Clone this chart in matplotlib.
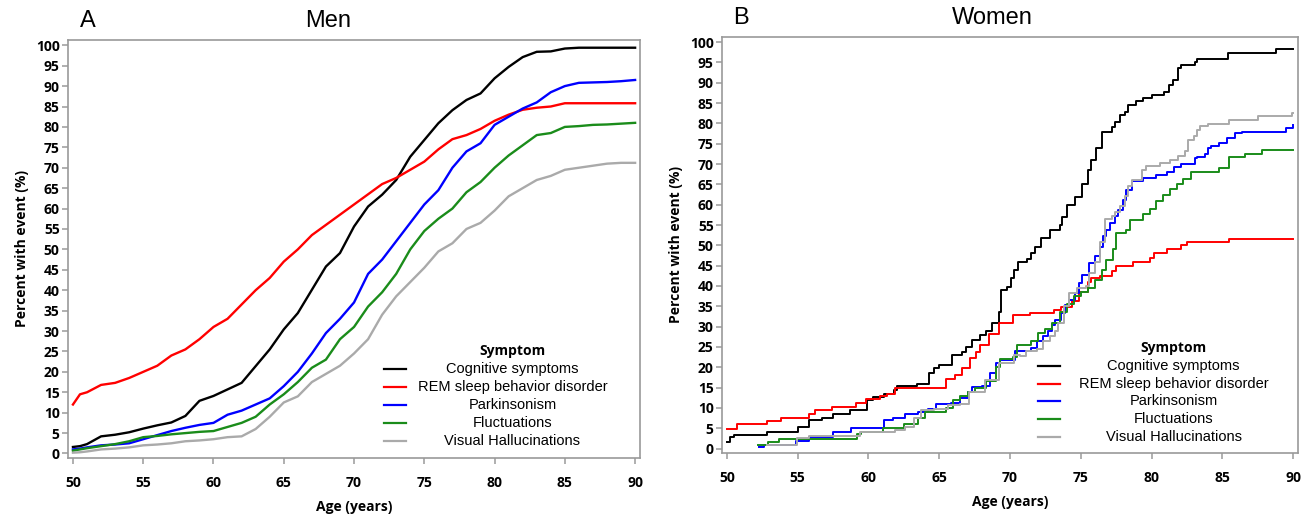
import numpy as np
import matplotlib
matplotlib.use('Agg')
import matplotlib.pyplot as plt
from matplotlib.lines import Line2D

# ---- data: age (years) and cumulative percent ----
labels = ["Cognitive symptoms", "REM sleep behavior disorder", "Parkinsonism",
          "Fluctuations", "Visual Hallucinations"]
colors = ["black", "#ff0000", "#0000ff", "#1a8c1a", "#aaaaaa"]

# Men
men_age = [50, 50.5, 51, 52, 53, 54, 55, 56, 57, 58, 59, 60, 61, 62, 63, 64, 65,
           66, 67, 68, 69, 70, 71, 72, 73, 74, 75, 76, 77, 78, 79, 80, 81, 82,
           83, 84, 85, 86, 87, 88, 89, 90]
men_cog = [1.6, 1.8, 2.3, 4.2, 4.6, 5.2, 6.1, 6.9, 7.6, 9.2, 12.9, 14.1, 15.7, 17.3,
           21.4, 25.5, 30.4, 34.4, 40.1, 45.8, 49.1, 55.6, 60.5, 63.4, 67.0, 72.7,
           76.8, 80.9, 84.1, 86.6, 88.2, 91.9, 94.7, 97.1, 98.4, 98.5, 99.2, 99.4,
           99.4, 99.4, 99.4, 99.4]
men_rem = [12.0, 14.5, 15.0, 16.8, 17.3, 18.5, 20.0, 21.5, 24.0, 25.5, 28.0, 31.0,
           33.0, 36.5, 40.0, 43.0, 47.0, 50.0, 53.5, 56.0, 58.5, 61.0, 63.5, 66.0,
           67.5, 69.5, 71.5, 74.5, 77.0, 78.0, 79.5, 81.5, 83.0, 84.2, 84.7, 85.0,
           85.8, 85.8, 85.8, 85.8, 85.8, 85.8]
men_park = [1.0, 1.2, 1.5, 2.0, 2.2, 2.5, 3.5, 4.5, 5.5, 6.3, 7.0, 7.5, 9.5, 10.5,
            12.0, 13.5, 16.5, 20.0, 24.5, 29.5, 33.0, 37.0, 44.0, 47.5, 52.0, 56.5,
            61.0, 64.5, 70.0, 74.0, 76.0, 80.5, 82.5, 84.5, 86.0, 88.5, 90.0, 90.8,
            90.9, 91.0, 91.2, 91.5]
men_fluc = [0.7, 1.0, 1.3, 1.8, 2.3, 3.0, 4.0, 4.3, 4.7, 5.0, 5.3, 5.5, 6.5, 7.5,
            9.0, 12.0, 14.5, 17.5, 21.0, 23.0, 28.0, 31.0, 36.0, 39.5, 44.0, 50.0,
            54.5, 57.5, 60.0, 64.0, 66.5, 70.0, 73.0, 75.5, 78.0, 78.5, 80.0, 80.2,
            80.5, 80.6, 80.8, 81.0]
men_vh = [0.2, 0.3, 0.5, 1.0, 1.2, 1.5, 2.0, 2.2, 2.5, 3.0, 3.2, 3.5, 4.0, 4.2,
          6.0, 9.0, 12.5, 14.0, 17.5, 19.5, 21.5, 24.5, 28.0, 34.0, 38.5, 42.0,
          45.5, 49.5, 51.5, 55.0, 56.5, 59.5, 63.0, 65.0, 67.0, 68.0, 69.5, 70.0,
          70.5, 71.0, 71.2, 71.2]

# Women (step functions)
w_cog_age = [50, 50.2, 50.5, 52.8, 55.0, 55.8, 56.7, 57.5, 58.7, 59.9, 60.3, 61.1,
             61.8, 62.0, 63.4, 64.3, 64.6, 65.0, 65.9, 66.6, 66.9, 67.3, 67.9,
             68.3, 68.75, 69.2, 69.35, 69.8, 70.05, 70.3, 70.6, 71.2, 71.5, 71.8,
             72.2, 72.8, 73.5, 73.7, 74.0, 74.6, 75.1, 75.5, 75.7, 76.1, 76.5,
             77.2, 77.4, 77.8, 78.1, 78.35, 78.9, 79.4, 80.0, 80.9, 81.2, 81.5,
             81.9, 82.1, 83.1, 83.2, 85.4, 88.8, 90]
w_cog = [1.5, 2.9, 3.3, 4.1, 5.3, 7.0, 7.6, 8.6, 9.4, 11.9, 12.7, 13.3, 14.4, 15.4,
         16.0, 18.5, 19.7, 20.5, 23.0, 23.8, 25.0, 26.7, 27.9, 29.0, 30.8, 33.7,
         39.0, 39.8, 42.0, 44.0, 46.0, 46.6, 48.0, 49.7, 51.7, 53.8, 55.0, 57.0,
         59.9, 62.0, 65.2, 68.5, 71.0, 73.9, 78.0, 79.2, 80.4, 82.1, 82.9, 84.5,
         85.4, 86.2, 87.0, 87.8, 89.5, 90.7, 93.6, 94.4, 95.2, 95.8, 97.4, 98.3,
         98.3]
w_rem_age = [50, 50.7, 52.8, 53.8, 55.8, 56.25, 57.4, 59.1, 59.8, 60.85, 61.3, 61.9,
             65.45, 66.1, 66.6, 67.2, 67.6, 67.9, 68.5, 69.2, 70.2, 71.4, 73.1,
             73.6, 74.4, 74.9, 75.5, 75.7, 76.35, 77.2, 77.5, 78.7, 79.9, 80.2,
             81.1, 82.1, 82.5, 85.5, 90]
w_rem = [4.9, 6.0, 6.8, 7.6, 8.6, 9.4, 10.3, 11.2, 12.1, 12.9, 13.5, 15.0, 17.0,
         18.0, 19.7, 22.2, 23.8, 25.5, 28.3, 31.0, 32.8, 33.4, 34.0, 34.9, 36.3,
         38.4, 40.9, 42.0, 42.4, 43.7, 44.8, 45.8, 47.0, 48.0, 49.0, 50.0, 50.8,
         51.6, 51.6]
w_park_age = [52.3, 52.6, 54.9, 55.8, 57.5, 58.8, 61.1, 61.7, 62.6, 63.5, 64.2, 64.8,
              65.8, 66.5, 67.0, 67.3, 68.0, 68.6, 69.0, 69.3, 70.35, 71.5, 71.9,
              72.3, 72.7, 72.95, 73.2, 73.6, 73.9, 74.2, 74.6, 74.9, 75.1, 75.6,
              76.0, 76.35, 76.6, 76.8, 77.1, 77.4, 77.6, 78.0, 78.2, 78.6, 79.4,
              80.35, 81.1, 81.6, 82.1, 83.1, 83.2, 83.8, 84.0, 84.2, 84.8, 85.3,
              85.9, 86.4, 89.5, 90]
w_park = [0.4, 0.8, 1.8, 2.9, 4.1, 5.1, 7.0, 7.6, 8.4, 9.0, 9.8, 11.0, 11.3, 12.5,
          14.0, 15.2, 15.5, 18.5, 21.0, 21.9, 24.0, 24.8, 26.4, 27.6, 28.9, 30.5,
          31.7, 33.4, 35.4, 36.6, 38.3, 40.7, 42.7, 45.6, 47.3, 49.7, 52.2, 53.8,
          55.5, 57.1, 58.7, 61.2, 63.6, 65.8, 66.5, 67.3, 68.1, 69.3, 70.1, 71.4,
          71.8, 72.6, 73.9, 74.4, 75.3, 76.3, 77.6, 78.0, 78.8, 79.5]
w_fluc_age = [52.2, 52.9, 53.7, 59.2, 59.5, 61.0, 62.5, 63.5, 64.0, 65.5, 66.0,
              66.5, 67.0, 67.5, 68.3, 69.0, 69.3, 70.2, 70.5, 71.5, 72.0, 72.5,
              73.0, 73.5, 74.0, 74.5, 75.0, 75.5, 76.0, 76.5, 76.8, 77.3, 77.5,
              78.2, 78.5, 79.4, 79.9, 80.35, 80.8, 81.3, 81.8, 82.2, 82.8, 84.8,
              85.5, 86.6, 87.8, 90]
w_fluc = [0.8, 1.6, 2.4, 3.5, 4.1, 5.0, 6.0, 7.5, 9.0, 10.0, 12.0, 13.0, 14.0, 15.0,
          16.5, 20.0, 22.0, 22.5, 25.5, 26.5, 28.5, 29.5, 31.0, 33.5, 35.5, 37.5,
          38.5, 39.5, 41.5, 44.0, 46.5, 49.0, 53.0, 53.7, 56.2, 57.8, 59.0, 61.0,
          62.3, 63.9, 65.1, 66.3, 68.0, 69.0, 71.7, 72.5, 73.5, 73.5]
w_vh_age = [52.8, 54.95, 55.8, 59.4, 61.9, 62.6, 63.2, 63.7, 64.6, 65.6, 66.5, 67.1,
            68.2, 69.2, 70.3, 70.7, 71.1, 71.9, 72.35, 72.8, 73.2, 73.4, 73.8, 74.2,
            74.7, 75.4, 75.6, 76.0, 76.35, 76.7, 77.2, 77.4, 77.8, 78.1, 78.35,
            78.6, 79.3, 79.6, 80.6, 81.3, 81.9, 82.4, 82.6, 83.0, 83.2, 83.4, 84.0,
            85.5, 87.5, 89.9, 90]
w_vh = [0.8, 2.5, 3.0, 4.1, 4.5, 5.3, 7.4, 9.4, 9.8, 10.7, 11.0, 14.0, 16.8, 21.0,
        23.0, 22.7, 24.0, 24.5, 26.4, 27.6, 28.9, 30.9, 35.0, 38.3, 39.6, 40.0,
        43.3, 45.8, 50.7, 56.4, 57.2, 58.1, 59.7, 62.2, 64.6, 66.2, 68.6, 69.5,
        70.3, 71.1, 71.9, 73.2, 76.0, 76.8, 78.4, 79.3, 79.9, 80.8, 81.8, 82.6,
        82.6]

xticks = list(range(50, 95, 5))
yticks = list(range(0, 105, 5))

fig = plt.figure(figsize=(13.11, 5.15), dpi=100)
axA = fig.add_axes([0.0519, 0.1107, 0.4363, 0.8117])
axB = fig.add_axes([0.5507, 0.1204, 0.4394, 0.8080])

tickfont = dict(family='Open Sans', weight='bold', size=10)
labfont = dict(family='Open Sans', weight='bold', size=10)
gray = '#9a9a9a'


def style(ax, letter, title, title_x):
    ax.set_xlim(49.65, 90.35)
    ax.set_ylim(-1.1, 101.3)
    ax.set_xticks(xticks)
    ax.set_yticks(yticks)
    ax.set_xticklabels([str(t) for t in xticks], fontdict=tickfont)
    ax.set_yticklabels([str(t) for t in yticks], fontdict=tickfont)
    for s in ax.spines.values():
        s.set_color(gray)
        s.set_linewidth(1.2)
    ax.tick_params(color=gray, length=4, width=1.1, pad=2)
    ax.tick_params(axis='x', pad=9)
    ax.set_xlabel('Age (years)', fontdict=labfont, labelpad=7)
    ax.set_ylabel('Percent with event (%)', fontdict=labfont, labelpad=5)
    ax.text(0.02, 1.031, letter, transform=ax.transAxes, family='Liberation Sans',
            size=17, va='baseline')
    ax.text(title_x, 1.031, title, transform=ax.transAxes, family='Liberation Sans',
            size=17, va='baseline', ha='center')


def legend(ax, x_line, x_text, y_top, dy):
    ax.text(x_text, y_top, 'Symptom', transform=ax.transAxes, ha='center',
            va='center', family='Open Sans', weight='bold', size=10)
    for i, (lab, c) in enumerate(zip(labels, colors)):
        y = y_top - dy * (i + 1)
        ax.add_line(Line2D([x_line, x_line + 0.038], [y, y], color=c, lw=1.6,
                           transform=ax.transAxes))
        ax.text(x_text, y, lab, transform=ax.transAxes, ha='center', va='center',
                family='Liberation Sans', size=10.5)


# Men panel
for ys, c in zip([men_cog, men_rem, men_park, men_fluc, men_vh], colors):
    axA.plot(men_age, ys, color=c, lw=1.7)
style(axA, 'A', 'Men', 0.455)
legend(axA, 0.552, 0.777, 0.255, 0.043)

# Women panel
women = [(w_cog_age, w_cog), (w_rem_age, w_rem), (w_park_age, w_park),
         (w_fluc_age, w_fluc), (w_vh_age, w_vh)]
for (xs, ys), c in zip(women, colors):
    axB.plot(xs, ys, color=c, lw=1.4, drawstyle='steps-post')
style(axB, 'B', 'Women', 0.47)
legend(axB, 0.549, 0.784, 0.253, 0.043)

fig.savefig('out.png', dpi=100)
